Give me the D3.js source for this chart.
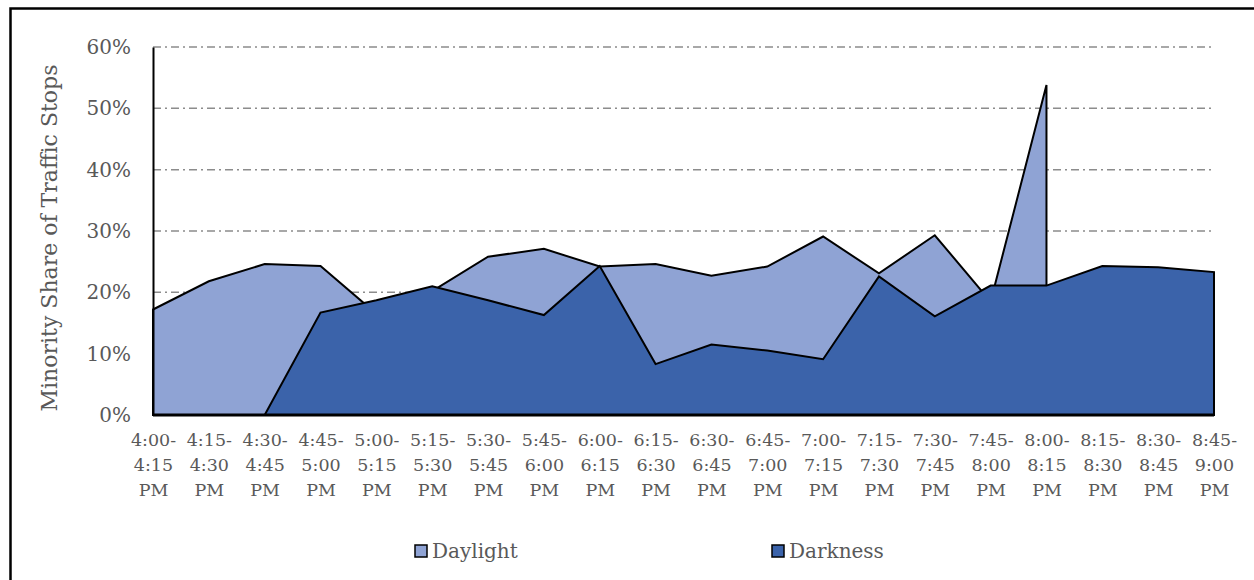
<!DOCTYPE html>
<html>
<head>
<meta charset="utf-8">
<script src="https://cdn.jsdelivr.net/npm/d3@7"></script>
<style>
  html, body { margin: 0; padding: 0; background: #fff; }
  svg { display: block; }
  text { font-family: "DejaVu Serif", "Liberation Serif", serif; fill: #595959; }
</style>
</head>
<body>
<svg id="chart" width="1254" height="580"></svg>
<script>
// 15-minute windows, each label split over three lines
const startTimes = ["4:00-", "4:15-", "4:30-", "4:45-", "5:00-", "5:15-", "5:30-", "5:45-", "6:00-", "6:15-",
                    "6:30-", "6:45-", "7:00-", "7:15-", "7:30-", "7:45-", "8:00-", "8:15-", "8:30-", "8:45-"];
const endTimes   = ["4:15", "4:30", "4:45", "5:00", "5:15", "5:30", "5:45", "6:00", "6:15", "6:30",
                    "6:45", "7:00", "7:15", "7:30", "7:45", "8:00", "8:15", "8:30", "8:45", "9:00"];
const categories = startTimes.map((s, i) => s + endTimes[i] + " PM");

// Minority share of traffic stops (%), null where no stops fall in the window
const daylight = [17.2, 21.8, 24.6, 24.3, 16.5, 20.2, 25.8, 27.1, 24.2, 24.6,
                  22.7, 24.2, 29.1, 23.1, 29.3, 18.5, 53.8, null, null, null];
const darkness = [0, 0, 0, 16.7, 18.7, 21.0, 18.7, 16.3, 24.3, 8.3,
                  11.5, 10.5, 9.1, 22.6, 16.1, 21.1, 21.1, 24.3, 24.1, 23.3];

const yTicks = [0, 10, 20, 30, 40, 50, 60];
const seriesNames = ["Daylight", "Darkness"];
const seriesColors = ["#8fa3d4", "#3b63aa"];

const svg = d3.select("#chart");

// outer frame
svg.append("path")
  .attr("d", "M10.5,580 L10.5,8.5 L1254,8.5")
  .attr("fill", "none").attr("stroke", "#000").attr("stroke-width", 2.5);

const x = d3.scalePoint().domain(categories).range([153, 1214]);
const y = d3.scaleLinear().domain([0, 60]).range([415, 47]);

// dash-dot gridlines
svg.append("g").selectAll("line")
  .data(yTicks.filter(t => t > 0))
  .join("line")
  .attr("x1", 153).attr("x2", 1214)
  .attr("y1", d => y(d)).attr("y2", d => y(d))
  .attr("stroke", "#8c8c8c").attr("stroke-width", 1.5)
  .attr("stroke-dasharray", "8,4,2,4");

// overlapping areas, daylight behind darkness
const area = d3.area()
  .defined(d => d.v !== null)
  .x(d => x(d.c))
  .y0(y(0))
  .y1(d => y(d.v));

[daylight, darkness].forEach((vals, k) => {
  svg.append("path")
    .datum(vals.map((v, i) => ({ c: categories[i], v: v })))
    .attr("d", area)
    .attr("fill", seriesColors[k])
    .attr("stroke", "#000")
    .attr("stroke-width", 2)
    .attr("stroke-linejoin", "miter");
});

// y axis
const yAxis = svg.append("g")
  .attr("transform", "translate(153,0)")
  .call(d3.axisLeft(y).tickValues(yTicks).tickSize(0).tickPadding(22).tickFormat(d => d + "%"));
yAxis.select(".domain").attr("stroke", "#000").attr("stroke-width", 2);
yAxis.selectAll(".tick text")
  .attr("font-family", "DejaVu Serif, serif")
  .attr("font-size", 20).attr("fill", "#595959");

// x axis
const xAxis = svg.append("g")
  .attr("transform", "translate(0,415)")
  .call(d3.axisBottom(x).tickSize(0).tickFormat(""));
xAxis.select(".domain").attr("stroke", "#000").attr("stroke-width", 3)
  .attr("d", "M153,0H1214");
xAxis.selectAll(".tick").each(function (d, i) {
  const t = d3.select(this).select("text")
    .attr("font-family", "DejaVu Serif, serif")
    .attr("font-size", 17.5).attr("fill", "#595959")
    .attr("text-anchor", "middle").attr("dy", null).attr("y", 0);
  [startTimes[i], endTimes[i], "PM"].forEach((line, j) => {
    t.append("tspan").attr("x", 0).attr("y", 31 + j * 25).text(line);
  });
});

// y axis title
svg.append("text")
  .attr("transform", "translate(57,238) rotate(-90)")
  .attr("text-anchor", "middle")
  .attr("font-size", 22)
  .text("Minority Share of Traffic Stops");

// legend
const legendX = [415, 772];
const legend = svg.append("g");
seriesNames.forEach((name, k) => {
  legend.append("rect")
    .attr("x", legendX[k]).attr("y", 545)
    .attr("width", 12).attr("height", 12)
    .attr("fill", seriesColors[k]).attr("stroke", "#000").attr("stroke-width", 1.5);
  legend.append("text")
    .attr("x", legendX[k] + 17).attr("y", 558)
    .attr("font-size", 20)
    .text(name);
});
</script>
</body>
</html>
